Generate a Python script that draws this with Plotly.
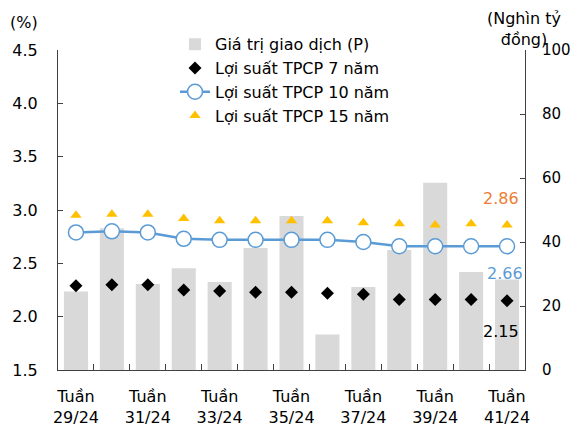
import plotly.graph_objects as go

# Weekly categories
weeks = ["29/24", "30/24", "31/24", "32/24", "33/24", "34/24", "35/24",
         "36/24", "37/24", "38/24", "39/24", "40/24", "41/24"]
labeled_weeks = ["29/24", "31/24", "33/24", "35/24", "37/24", "39/24", "41/24"]

# Trading value (thousand billion VND), right axis
trade_value = [24.5, 44.3, 26.9, 31.8, 27.5, 38.1, 48.1,
               11.1, 25.9, 37.5, 58.5, 30.6, 28.3]

# Government bond yields (%), left axis
yield_7y = [2.29, 2.30, 2.30, 2.25, 2.24, 2.23, 2.23,
            2.22, 2.21, 2.16, 2.16, 2.16, 2.15]
yield_10y = [2.79, 2.80, 2.79, 2.73, 2.72, 2.72, 2.72,
             2.72, 2.70, 2.66, 2.66, 2.66, 2.66]
yield_15y = [2.95, 2.96, 2.96, 2.92, 2.90, 2.90, 2.90,
             2.90, 2.88, 2.87, 2.86, 2.87, 2.86]

FONT = "DejaVu Sans"
ORANGE = "#ED7D31"
BLUE = "#5B9BD5"
GOLD = "#FFC000"
GREY = "#D9D9D9"

W, H = 574, 430
L, R, T, B = 58, 49, 50, 60
PW, PH = W - L - R, H - T - B


def px_x(p):
    return (p - L) / PW


def px_y(p):
    return 1 + (T - p) / PH


x = list(range(len(weeks)))
ticktext = [("Tuần<br>" + w) if w in labeled_weeks else "" for w in weeks]

fig = go.Figure()

fig.add_trace(go.Bar(
    x=x, y=trade_value, name="Giá trị giao dịch (P)",
    marker=dict(color=GREY, line=dict(width=0)), yaxis="y",
))
fig.add_trace(go.Scatter(
    x=x, y=yield_7y, name="Lợi suất TPCP 7 năm", mode="markers",
    marker=dict(symbol="diamond", size=10, color="black"), yaxis="y2",
))
fig.add_trace(go.Scatter(
    x=x, y=yield_10y, name="Lợi suất TPCP 10 năm", mode="lines+markers",
    line=dict(color=BLUE, width=2.5),
    marker=dict(symbol="circle", size=15, color="white",
                line=dict(color=BLUE, width=1.5)),
    yaxis="y2",
))
fig.add_trace(go.Scatter(
    x=x, y=yield_15y, name="Lợi suất TPCP 15 năm", mode="markers",
    marker=dict(symbol="triangle-up", size=10, color=GOLD), yaxis="y2",
))

last = len(weeks) - 1
fig.add_annotation(x=last, y=yield_15y[-1], yref="y2", text=f"{yield_15y[-1]:.2f}",
                   showarrow=False, xshift=-6, yshift=26,
                   font=dict(family=FONT, size=16, color=ORANGE))
fig.add_annotation(x=last, y=yield_10y[-1], yref="y2", text=f"{yield_10y[-1]:.2f}",
                   showarrow=False, xshift=-2, yshift=-27,
                   font=dict(family=FONT, size=16, color=BLUE))
fig.add_annotation(x=last, y=yield_7y[-1], yref="y2", text=f"{yield_7y[-1]:.2f}",
                   showarrow=False, xshift=-6, yshift=-31,
                   font=dict(family=FONT, size=16, color="black"))

# Axis unit captions
fig.add_annotation(x=px_x(24), y=px_y(22), xref="paper", yref="paper", text="(%)",
                   xanchor="center", yanchor="middle", showarrow=False,
                   font=dict(family=FONT, size=16, color="black"))
fig.add_annotation(x=px_x(524), y=px_y(29), xref="paper", yref="paper",
                   text="(Nghìn tỷ<br>đồng)", xanchor="center", yanchor="middle",
                   showarrow=False, align="center",
                   font=dict(family=FONT, size=16, color="black"))

axis_line = dict(showline=True, linecolor="#404040", linewidth=1, automargin=False)

fig.update_layout(
    width=W, height=H,
    margin=dict(l=L, r=R, t=T, b=B, pad=0),
    paper_bgcolor="white", plot_bgcolor="white",
    font=dict(family=FONT, size=16, color="black"),
    bargap=0.33,
    showlegend=True,
    legend=dict(x=px_x(175), y=1.071, xanchor="left", yanchor="top",
                bgcolor="rgba(0,0,0,0)", font=dict(family=FONT, size=16),
                tracegroupgap=0, itemwidth=30, traceorder="normal"),
    xaxis=dict(
        range=[-0.5, last + 0.5], tickmode="array", tickvals=x, ticktext=ticktext,
        ticks="", showgrid=False, zeroline=False, ticklabelstandoff=12,
        minor=dict(tickmode="array", tickvals=[i + 0.5 for i in x[:-1]],
                   ticks="inside", ticklen=6, tickcolor="#404040"),
        tickfont=dict(family=FONT, size=16), **axis_line,
    ),
    yaxis=dict(
        side="right", range=[0, 100], dtick=20, ticks="inside", ticklen=5,
        tickcolor="#404040", showgrid=False, zeroline=False,
        tickfont=dict(family=FONT, size=15), ticklabelstandoff=13, **axis_line,
    ),
    yaxis2=dict(
        side="left", overlaying="y", range=[1.5, 4.5], dtick=0.5, tickformat=".1f",
        ticks="inside", ticklen=5, tickcolor="#404040", showgrid=False,
        zeroline=False, tickfont=dict(family=FONT, size=16),
        ticklabelstandoff=16, **axis_line,
    ),
)

fig.write_html("out.html")
